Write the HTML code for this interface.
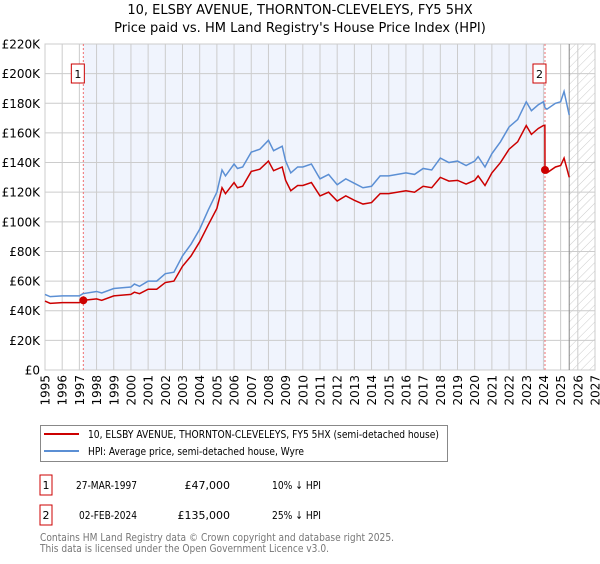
<!DOCTYPE html>
<html><head><meta charset="utf-8"><style>
body{margin:0;background:#fff;font-family:"DejaVu Sans","Liberation Sans",sans-serif;}
</style></head><body>
<svg id="c" width="600" height="560" xmlns="http://www.w3.org/2000/svg" font-family="DejaVu Sans, Liberation Sans, sans-serif">
<defs><pattern id="hatch" width="6" height="6" patternUnits="userSpaceOnUse" patternTransform="rotate(45)"><line x1="0" y1="0" x2="0" y2="6" stroke="#ccc" stroke-width="1"/></pattern></defs>
<text x="300" y="14" text-anchor="middle" font-size="13">10, ELSBY AVENUE, THORNTON-CLEVELEYS, FY5 5HX</text>
<text x="300" y="32" text-anchor="middle" font-size="13">Price paid vs. HM Land Registry's House Price Index (HPI)</text>
<g id="plot"></g>
<g>
<rect x="40.5" y="425.5" width="407" height="36" fill="#fff" stroke="#888"/>
<line x1="44" y1="434" x2="79" y2="434" stroke="#cc0000" stroke-width="2"/>
<text x="88" y="438" font-size="11" textLength="351" lengthAdjust="spacingAndGlyphs">10, ELSBY AVENUE, THORNTON-CLEVELEYS, FY5 5HX (semi-detached house)</text>
<line x1="44" y1="451" x2="79" y2="451" stroke="#5b8fd4" stroke-width="2"/>
<text x="88" y="455" font-size="11" textLength="216" lengthAdjust="spacingAndGlyphs">HPI: Average price, semi-detached house, Wyre</text>
</g>
<g font-size="11">
<rect x="40" y="475" width="12" height="20" fill="#fff" stroke="#cc0000"/><text x="46" y="489" text-anchor="middle">1</text>
<text x="76" y="489" textLength="61" lengthAdjust="spacingAndGlyphs">27-MAR-1997</text><text x="230" y="489" text-anchor="end">£47,000</text><text x="272" y="489" textLength="49" lengthAdjust="spacingAndGlyphs">10% ↓ HPI</text>
<rect x="40" y="505" width="12" height="20" fill="#fff" stroke="#cc0000"/><text x="46" y="519" text-anchor="middle">2</text>
<text x="79" y="519" textLength="58" lengthAdjust="spacingAndGlyphs">02-FEB-2024</text><text x="230" y="519" text-anchor="end">£135,000</text><text x="272" y="519" textLength="49" lengthAdjust="spacingAndGlyphs">25% ↓ HPI</text>
</g>
<text x="40" y="541" font-size="11" fill="#777" textLength="354" lengthAdjust="spacingAndGlyphs">Contains HM Land Registry data © Crown copyright and database right 2025.</text>
<text x="40" y="552" font-size="11" fill="#777" textLength="289" lengthAdjust="spacingAndGlyphs">This data is licensed under the Open Government Licence v3.0.</text>
</svg>
<script>
const yTicks=[0,20,40,60,80,100,120,140,160,180,200,220];
const yTickLabels=["£0","£20K","£40K","£60K","£80K","£100K","£120K","£140K","£160K","£180K","£200K","£220K"];
const xYears=[1995,1996,1997,1998,1999,2000,2001,2002,2003,2004,2005,2006,2007,2008,2009,2010,2011,2012,2013,2014,2015,2016,2017,2018,2019,2020,2021,2022,2023,2024,2025,2026,2027];
const hpiDates=[1995,1995.3,1996,1997,1997.2,1998,1998.3,1999,2000,2000.2,2000.5,2001,2001.5,2002,2002.5,2003,2003.5,2004,2004.5,2005,2005.3,2005.5,2006,2006.2,2006.5,2007,2007.5,2008,2008.3,2008.8,2009,2009.3,2009.7,2010,2010.5,2011,2011.5,2012,2012.5,2013,2013.5,2014,2014.5,2015,2016,2016.5,2017,2017.5,2018,2018.5,2019,2019.5,2020,2020.2,2020.6,2021,2021.5,2022,2022.5,2023,2023.3,2023.7,2024,2024.09,2024.2,2024.7,2025,2025.2,2025.5];
const hpiValues=[51,49.5,50,50,51.5,53,52,55,56,58,56.5,60,60,65,66,77,85,95,108,120,135,131,139,136,137,147,149,155,148,151,141,133,137,137,139,129,132,125,129,126,123,124,131,131,133,132,136,135,143,140,141,138,141,144,137,146,154,164,169,181,175,179,181,177,176,180,181,188,172];
const priceDates=[1995,1995.3,1996,1997,1997.2,1998,1998.3,1999,2000,2000.2,2000.5,2001,2001.5,2002,2002.5,2003,2003.5,2004,2004.5,2005,2005.3,2005.5,2006,2006.2,2006.5,2007,2007.5,2008,2008.3,2008.8,2009,2009.3,2009.7,2010,2010.5,2011,2011.5,2012,2012.5,2013,2013.5,2014,2014.5,2015,2016,2016.5,2017,2017.5,2018,2018.5,2019,2019.5,2020,2020.2,2020.6,2021,2021.5,2022,2022.5,2023,2023.3,2023.7,2024,2024.085,2024.09,2024.2,2024.7,2025,2025.2,2025.5];
const priceValues=[46.5,45,45.5,45.5,47,48,47,50,51,52.5,51.5,54.5,54.5,59,60,70,77,86.5,98,109,123,119,126.5,123,124,134,135.5,141,134.5,137,128,121,124.5,124.5,126.5,117.5,120,114,117.5,114.5,112,113,119,119,121,120,124,123,130,127.5,128,125.5,128,131,124.5,133,140,149,154,165,159,163,165,165,135,133,137,138,143,130];
const saleDates=[1997.23,2024.09];
const saleValues=[47,135];
const saleLabels=["1","2"];

const L=45,R=595,T=44,B=370,X0=1995,X1=2027,YMAX=220,HATCH=2025.5;
const sx=v=>L+(v-X0)/(X1-X0)*(R-L);
const sy=v=>B-v/YMAX*(B-T);
const NS="http://www.w3.org/2000/svg";
const g=document.getElementById('plot');
function el(t,a,p){const e=document.createElementNS(NS,t);for(const k in a)e.setAttribute(k,a[k]);(p||g).appendChild(e);return e;}

const bg=el('rect',{x:L,y:T,width:R-L,height:B-T,fill:'#fff'});


const band=el('rect',{x:sx(saleDates[0]),y:T,width:sx(saleDates[1])-sx(saleDates[0]),height:B-T,fill:'#f0f4fd'});


const hz=el('rect',{x:sx(HATCH),y:T,width:R-sx(HATCH),height:B-T,fill:'url(#hatch)'});



yTicks.forEach((v,i)=>{
  const ln=el('line',{x1:L,x2:R,y1:sy(v),y2:sy(v),stroke:'#ccc','stroke-width':1});
  
  
  const t=el('text',{x:L-5,y:sy(v)+4.5,'text-anchor':'end','font-size':12});
  
  
  t.textContent=yTickLabels[i];
});
xYears.forEach(y=>{
  const ln=el('line',{x1:sx(y),x2:sx(y),y1:T,y2:B,stroke:'#ccc','stroke-width':1});
  
  
  const t=el('text',{transform:`translate(${sx(y)+4.5},${B+5}) rotate(-90)`,'text-anchor':'end','font-size':12});
  
  
  t.textContent=y;
});
const frame=el('rect',{x:L,y:T,width:R-L,height:B-T,fill:'none',stroke:'#ccc'});


const nl=el('line',{x1:sx(HATCH),x2:sx(HATCH),y1:T,y2:B,stroke:'#888','stroke-width':1});



saleDates.forEach((d,i)=>{
  const ln=el('line',{x1:sx(d),x2:sx(d),y1:T,y2:B,stroke:'#f07070','stroke-width':1,'stroke-dasharray':'2,2'});
  
  
  const bx=el('rect',{x:sx(d)-12,y:64,width:13,height:19,fill:'#fff',stroke:'#cc0000'});
  
  
  const t=el('text',{x:sx(d)-5.5,y:78,'text-anchor':'middle','font-size':11});
  
  
  t.textContent=saleLabels[i];
});

const hp=el('polyline',{points:hpiDates.map((d,i)=>sx(d)+','+sy(hpiValues[i])).join(' '),fill:'none',stroke:'#5b8fd4','stroke-width':1.5});


const pp=el('polyline',{points:priceDates.map((d,i)=>sx(d)+','+sy(priceValues[i])).join(' '),fill:'none',stroke:'#cc0000','stroke-width':1.5});


saleDates.forEach((d,i)=>{
  const c=el('circle',{cx:sx(d),cy:sy(saleValues[i]),r:4,fill:'#cc0000'});
  
  
});
</script>
</body></html>
